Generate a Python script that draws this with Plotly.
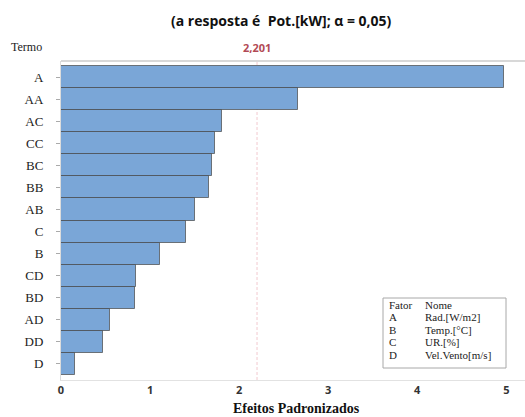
import plotly.graph_objects as go

terms = ["A", "AA", "AC", "CC", "BC", "BB", "AB", "C", "B", "CD", "BD", "AD", "DD", "D"]
effects = [4.97, 2.66, 1.81, 1.73, 1.69, 1.665, 1.50, 1.40, 1.115, 0.845, 0.834, 0.546, 0.466, 0.161]
critical = 2.201
critical_label = "2,201"
x_ticks = [0, 1, 2, 3, 4, 5]
factors = ["Fator", "A", "B", "C", "D"]
factor_names = ["Nome", "Rad.[W/m2]", "Temp.[°C]", "UR.[%]", "Vel.Vento[m/s]"]

W, H = 525, 417
L, R, T, B = 61, 0, 61, 37
pw, ph = W - L - R, H - T - B

def px_x(x):
    return (x - L) / pw

def px_y(y):
    return (H - B - y) / ph

fig = go.Figure()
fig.add_trace(go.Bar(
    x=effects, y=terms, orientation="h",
    marker=dict(color="#7aa6d7", line=dict(color="rgba(70,70,70,0.7)", width=1)),
    hoverinfo="x+y", showlegend=False,
))

fig.add_shape(type="line", xref="x", yref="paper", x0=critical, x1=critical, y0=0, y1=1,
              line=dict(color="#f2c9cf", width=1, dash="3px,2px"), layer="below")
fig.add_shape(type="line", xref="paper", yref="paper", x0=0, x1=1, y0=1, y1=1,
              line=dict(color="#d8d8d8", width=2))

serif = "Liberation Serif"
sans = "Open Sans"

fig.add_annotation(xref="x", yref="paper", x=critical, y=px_y(47), text="<b>" + critical_label + "</b>",
                   showarrow=False, font=dict(family=sans, size=11, color="#b24a55"), xanchor="center", yanchor="middle")
fig.add_annotation(xref="paper", yref="paper", x=px_x(281), y=px_y(20),
                   text="<b>(a resposta é  Pot.[kW]; α = 0,05)</b>", showarrow=False,
                   font=dict(family=sans, size=14, color="#111"), xanchor="center", yanchor="middle")
fig.add_annotation(xref="paper", yref="paper", x=px_x(9), y=px_y(47), text="Termo", showarrow=False,
                   font=dict(family=serif, size=12, color="#222"), xanchor="left", yanchor="middle")
fig.add_annotation(xref="paper", yref="paper", x=px_x(296), y=px_y(408), text="<b>Efeitos Padronizados</b>",
                   showarrow=False, font=dict(family=serif, size=14, color="#111"), xanchor="center", yanchor="middle")

# legend-like factor table
fig.add_shape(type="rect", xref="paper", yref="paper", x0=px_x(383), x1=px_x(506), y0=px_y(368), y1=px_y(298),
              line=dict(color="#a8a8a8", width=1), fillcolor="white")
row_y = [304.5, 317, 329.5, 342, 354.5]
for f, n, ry in zip(factors, factor_names, row_y):
    fig.add_annotation(xref="paper", yref="paper", x=px_x(388), y=px_y(ry), text=f, showarrow=False,
                       borderpad=0, font=dict(family=serif, size=11, color="#222"), xanchor="left", yanchor="middle")
    fig.add_annotation(xref="paper", yref="paper", x=px_x(424), y=px_y(ry), text=n, showarrow=False,
                       borderpad=0, font=dict(family=serif, size=11, color="#222"), xanchor="left", yanchor="middle")

fig.update_layout(
    width=W, height=H, margin=dict(l=L, r=R, t=T, b=B),
    paper_bgcolor="white", plot_bgcolor="white",
    bargap=0,
    xaxis=dict(range=[0, (W - L - R) / 89.06], tickvals=x_ticks, ticktext=["<b>%d</b>" % v for v in x_ticks],
               showgrid=False, zeroline=False, showline=True, linecolor="#e2e2e2", linewidth=1,
               ticks="", tickfont=dict(family=sans, size=11, color="#333"), automargin=False),
    yaxis=dict(type="category", categoryorder="array", categoryarray=terms, range=[13.73, -0.73],
               showgrid=False, zeroline=False, showline=True, linecolor="#dcdcdc", linewidth=1,
               ticks="outside", ticklen=4, tickcolor="#aaa", ticklabelstandoff=10, automargin=False,
               tickfont=dict(family=serif, size=13, color="#222")),
)

fig.write_html("out.html", config={"displayModeBar": False},
               post_script="document.body.style.margin='0';document.body.style.overflow='hidden';")
